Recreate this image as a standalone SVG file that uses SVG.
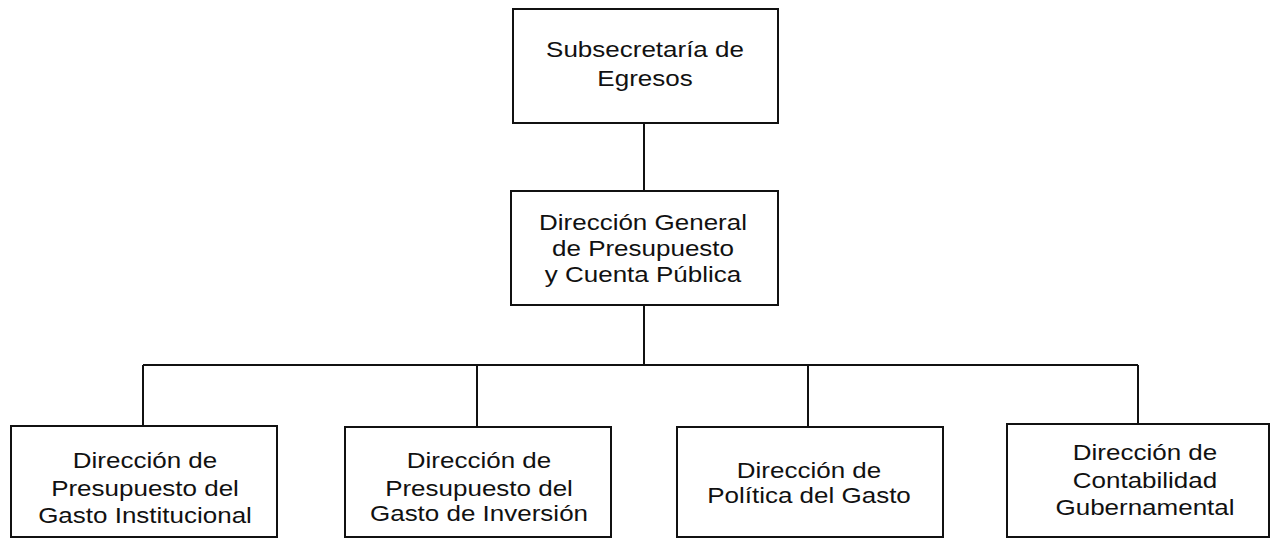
<svg xmlns="http://www.w3.org/2000/svg" width="1270" height="540" viewBox="0 0 1270 540">
<style>
.box{fill:#fff;stroke:#111;stroke-width:2}
.ln{fill:none;stroke:#111;stroke-width:2}
text{font-family:"Liberation Sans",Arial,sans-serif;font-size:22.5px;fill:#111;text-anchor:middle}
</style>
<rect width="1270" height="540" fill="#fff"/>
<g id="connectors">
<path class="ln" d="M644 123V191"/>
<path class="ln" d="M644 305V365"/>
<path class="ln" d="M143 365H1138"/>
<path class="ln" d="M143 365V426"/>
<path class="ln" d="M477 365V427"/>
<path class="ln" d="M808 365V427"/>
<path class="ln" d="M1138 365V424"/>
</g>
<g id="n-subsecretaria">
<rect class="box" x="513" y="9" width="265" height="114"/>
<g transform="translate(645 0) scale(1.155 1)">
<text x="0" y="57">Subsecretaría de</text>
<text x="0" y="86">Egresos</text>
</g>
</g>
<g id="n-dgpcp">
<rect class="box" x="511" y="191" width="267" height="114"/>
<g transform="translate(643 0) scale(1.155 1)">
<text x="0" y="230">Dirección General</text>
<text x="0" y="256">de Presupuesto</text>
<text x="0" y="282">y Cuenta Pública</text>
</g>
</g>
<g id="n-institucional">
<rect class="box" x="11" y="426" width="266" height="111"/>
<g transform="translate(145 0) scale(1.155 1)">
<text x="0" y="468">Dirección de</text>
<text x="0" y="496">Presupuesto del</text>
<text x="0" y="523">Gasto Institucional</text>
</g>
</g>
<g id="n-inversion">
<rect class="box" x="345" y="427" width="266" height="110"/>
<g transform="translate(479 0) scale(1.155 1)">
<text x="0" y="468">Dirección de</text>
<text x="0" y="496">Presupuesto del</text>
<text x="0" y="521">Gasto de Inversión</text>
</g>
</g>
<g id="n-politica">
<rect class="box" x="677" y="427" width="266" height="110"/>
<g transform="translate(809 0) scale(1.155 1)">
<text x="0" y="478">Dirección de</text>
<text x="0" y="503">Política del Gasto</text>
</g>
</g>
<g id="n-contabilidad">
<rect class="box" x="1007" y="424" width="262" height="113"/>
<g transform="translate(1145 0) scale(1.155 1)">
<text x="0" y="460">Dirección de</text>
<text x="0" y="488">Contabilidad</text>
<text x="0" y="515">Gubernamental</text>
</g>
</g>
</svg>
